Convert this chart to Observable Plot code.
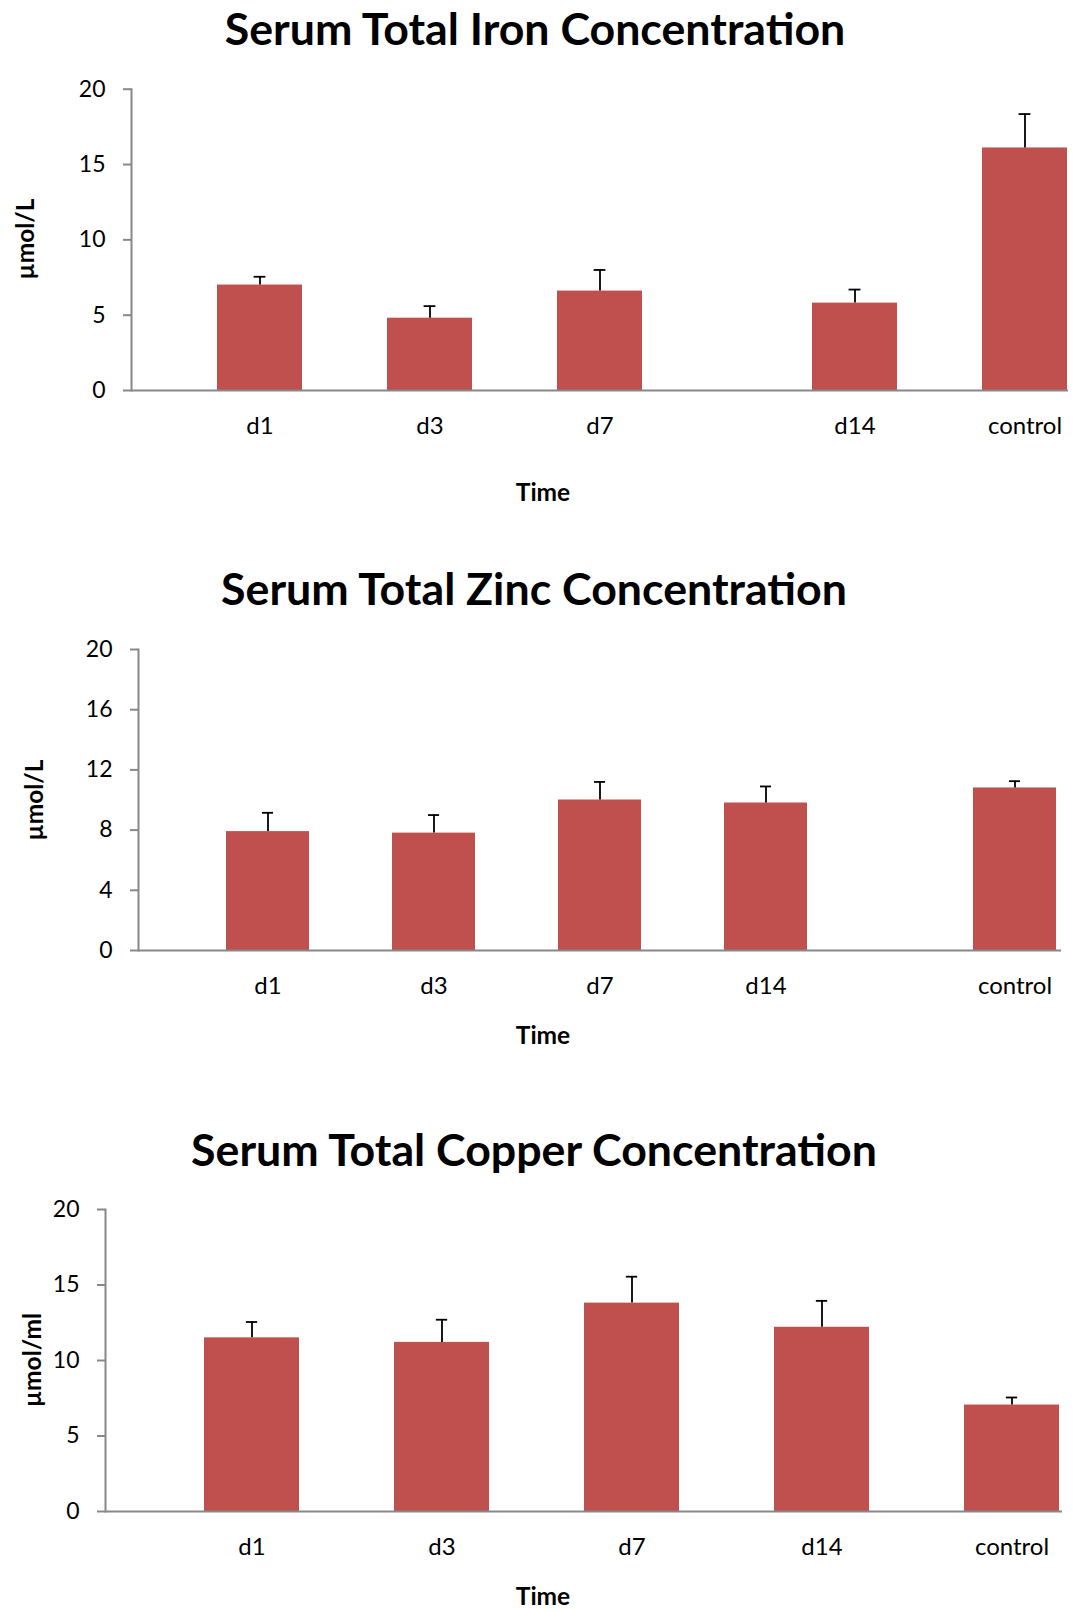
<!DOCTYPE html>
<html>
<head>
<meta charset="utf-8">
<script src="https://cdn.jsdelivr.net/npm/d3@7"></script>
<script src="https://cdn.jsdelivr.net/npm/@observablehq/plot@0.6"></script>
<style>
  body { margin: 0; background: #fff; }
  #root { position: relative; width: 1073px; height: 1611px; overflow: hidden; font-family: Lato, "Open Sans", sans-serif; color: #000; }
  .chart { position: absolute; left: 0; }
  .lbl { position: absolute; white-space: nowrap; line-height: 1; font-weight: bold; color: #000; }
  .title { font-size: 44.7px; transform: translate(-50%, -50%); }
  .xlab { font-size: 24.5px; transform: translate(-50%, -50%); }
  .ylab { font-size: 24.5px; transform: translate(-50%, -50%) rotate(-90deg); }
</style>
</head>
<body>
<div id="root"></div>
<script>
// ---- data ----
const categories = ["d1", "d3", "d7", "d14", "control"];

const ironMean = [7.0, 4.8, 6.6, 5.8, 16.1];
const ironSD   = [0.55, 0.8, 1.4, 0.9, 2.25];
const ironTicks = [0, 5, 10, 15, 20];

const zincMean = [7.9, 7.8, 10.0, 9.8, 10.8];
const zincSD   = [1.25, 1.2, 1.2, 1.1, 0.45];
const zincTicks = [0, 4, 8, 12, 16, 20];

const copperMean = [11.5, 11.2, 13.8, 12.2, 7.05];
const copperSD   = [1.05, 1.5, 1.75, 1.75, 0.5];
const copperTicks = [0, 5, 10, 15, 20];

const titles = ["Serum Total Iron Concentration", "Serum Total Zinc Concentration", "Serum Total Copper Concentration"];
const yTitles = ["µmol/L", "µmol/L", "µmol/ml"];
const xTitle = "Time";

// half-step slot layout of the category axis (blank slots are spacing)
const slots1 = ["_a", "d1", "_b", "d3", "_c", "d7", "_d", "_e", "d14", "_f", "control"];
const slots2 = ["_a", "d1", "_b", "d3", "_c", "d7", "_d", "d14", "_e", "_f", "control"];
const slots3 = ["_a", "d1", "_b", "d3", "_c", "d7", "_d", "d14", "_e", "control"];

const root = document.getElementById("root");
const BAR = "#C0504D";
const AXIS = "#888888";

function addLabel(cls, text, x, y) {
  const d = document.createElement("div");
  d.className = "lbl " + cls;
  d.textContent = text;
  d.style.left = x + "px";
  d.style.top = y + "px";
  root.appendChild(d);
}

function makeChart(cfg) {
  const data = categories.map((c, i) => ({cat: c, mean: cfg.mean[i], sd: cfg.sd[i]}));
  const W = 1073;
  const slotW = (W - cfg.mLeft - cfg.mRight) / cfg.slots.length;
  const capInset = (slotW - 12) / 2;
  const plot = Plot.plot({
    width: W,
    height: cfg.height,
    marginTop: cfg.mTop,
    marginBottom: cfg.mBottom,
    marginLeft: cfg.mLeft,
    marginRight: cfg.mRight,
    style: {fontFamily: "Lato, 'Open Sans', sans-serif", color: "#000", background: "transparent", overflow: "visible"},
    x: {type: "band", domain: cfg.slots, padding: 0, axis: null},
    y: {domain: [0, 20], axis: null},
    marks: [
      Plot.barY(data, {x: "cat", y: "mean", fill: BAR}),
      Plot.ruleX(data, {x: "cat", y1: "mean", y2: d => d.mean + d.sd, stroke: "#000", strokeWidth: 1.8}),
      Plot.tickY(data, {x: "cat", y: d => d.mean + d.sd, stroke: "#000", strokeWidth: 1.8, insetLeft: capInset, insetRight: capInset}),
      Plot.ruleY([0], {stroke: AXIS, strokeWidth: 2}),
      Plot.frame({anchor: "left", stroke: AXIS, strokeWidth: 2}),
      Plot.axisY({ticks: cfg.ticks, tickSize: 8, tickPadding: 18, fontSize: 23, stroke: AXIS, strokeWidth: 2, fill: "#000", label: null}),
      Plot.axisX({ticks: categories, tickSize: 0, tickPadding: 26, fontSize: 24, fill: "#000", label: null})
    ]
  });
  plot.classList.add("chart");
  plot.style.top = cfg.top + "px";
  root.appendChild(plot);
  addLabel("title", cfg.title, cfg.titleX, cfg.titleY);
  addLabel("ylab", cfg.yTitle, cfg.yLabX, cfg.yLabY);
  addLabel("xlab", xTitle, 543, cfg.timeY);
}

makeChart({top: 50, height: 400, mTop: 38.7, mBottom: 60, mLeft: 131, mRight: 5,
  slots: slots1, mean: ironMean, sd: ironSD, ticks: ironTicks,
  title: titles[0], titleX: 535, titleY: 28, yTitle: yTitles[0], yLabX: 25, yLabY: 239, timeY: 492});

makeChart({top: 600, height: 410, mTop: 49, mBottom: 60, mLeft: 138, mRight: 12,
  slots: slots2, mean: zincMean, sd: zincSD, ticks: zincTicks,
  title: titles[1], titleX: 534, titleY: 588, yTitle: yTitles[1], yLabX: 34, yLabY: 800, timeY: 1035});

makeChart({top: 1170, height: 391, mTop: 39, mBottom: 50, mLeft: 105, mRight: 11,
  slots: slots3, mean: copperMean, sd: copperSD, ticks: copperTicks,
  title: titles[2], titleX: 534, titleY: 1149, yTitle: yTitles[2], yLabX: 31.5, yLabY: 1360, timeY: 1596});
</script>
</body>
</html>
